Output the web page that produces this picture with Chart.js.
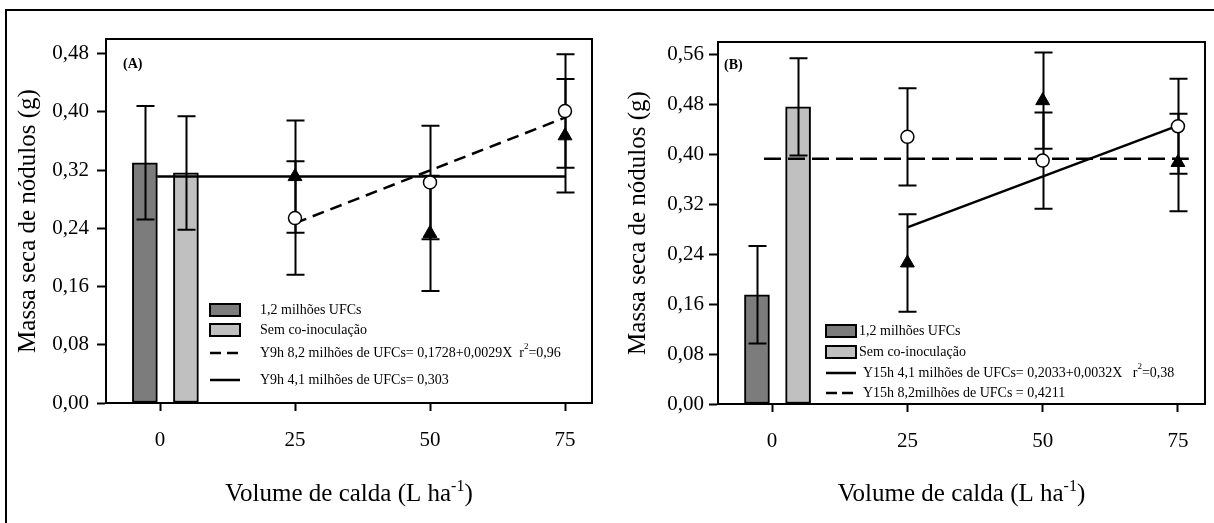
<!DOCTYPE html>
<html>
<head>
<meta charset="utf-8">
<script src="https://cdn.jsdelivr.net/npm/chart.js@4.4.1/dist/chart.umd.min.js"></script>
<style>
    html, body { margin: 0; padding: 0; background: #fff; }
    #wrap { position: relative; width: 1214px; height: 523px; overflow: hidden; }
    #frame { position: absolute; left: 5px; top: 9px; width: 1220px; height: 530px; border-top: 2px solid #000; border-left: 2px solid #000; }
    .panel { position: absolute; top: 0; width: 607px; height: 523px; }
</style>
</head>
<body>
<div id="wrap">
    <div id="frame"></div>
    <div class="panel" style="left:0"><canvas id="chartA" width="607" height="523"></canvas></div>
    <div class="panel" style="left:607px"><canvas id="chartB" width="607" height="523"></canvas></div>
</div>
<script>
// Shared axis values
var xTicks = [0, 25, 50, 75];
var doses = [25, 50, 75];
var barX = [-2.8, 4.8];   // 1,2 milhões UFCs ; Sem co-inoculação

// Panel (A)
var yTicksA = [0, 0.08, 0.16, 0.24, 0.32, 0.40, 0.48];
var barsA = [0.330, 0.316];
var barErrA = [0.078, 0.078];
var circlesA = [0.254, 0.303, 0.401];        // 8,2 milhões de UFCs
var circlesErrA = [0.078, 0.078, 0.078];
var trianglesA = [0.311, 0.233, 0.367];      // 4,1 milhões de UFCs
var trianglesErrA = [0.077, 0.079, 0.078];
var dashedXA = [25, 75];
var dashedYA = [0.247, 0.392];
var solidXA = [-0.5, 75];
var solidYA = [0.311, 0.311];

// Panel (B)
var yTicksB = [0, 0.08, 0.16, 0.24, 0.32, 0.40, 0.48, 0.56];
var barsB = [0.175, 0.476];
var barErrB = [0.078, 0.078];
var circlesB = [0.428, 0.390, 0.445];        // 8,2 milhões de UFCs
var circlesErrB = [0.078, 0.077, 0.076];
var trianglesB = [0.226, 0.486, 0.387];      // 4,1 milhões de UFCs
var trianglesErrB = [0.078, 0.077, 0.078];
var solidXB = [25, 75];
var solidYB = [0.283, 0.446];
var dashedXB = [-1.5, 77];
var dashedYB = [0.393, 0.393];

var serif = '"Liberation Serif", "Times New Roman", serif';
var darkGray = '#7c7c7c';
var lightGray = '#c0c0c0';

function fmt(v) { return v.toFixed(2).replace('.', ','); }

function pts(xs, ys) {
    return xs.map(function (x, i) { return { x: x, y: ys[i] }; });
}

// Writes text parts, some as superscript, starting at x; returns end x
function drawRich(ctx, x, y, parts, size, measureOnly) {
    parts.forEach(function (p) {
        var s = p.sup ? Math.round(size * 0.62) : size;
        ctx.font = s + 'px ' + serif;
        if (!measureOnly) ctx.fillText(p.t, x, p.sup ? y - size * 0.42 : y);
        x += ctx.measureText(p.t).width;
    });
    return x;
}

// Per-panel extras: legend, label, x title
var panels = {
    chartA: {
        label: '(A)', labelX: 123, labelY: 64,
        legend: [
            { kind: 'box', color: darkGray, y: 310, parts: [{ t: '1,2 milhões UFCs' }] },
            { kind: 'box', color: lightGray, y: 330, parts: [{ t: 'Sem co-inoculação' }] },
            { kind: 'line', dash: [11, 6], y: 353, parts: [{ t: 'Y9h 8,2 milhões de UFCs= 0,1728+0,0029X  r' }, { t: '2', sup: true }, { t: '=0,96' }] },
            { kind: 'line', dash: [], y: 380, parts: [{ t: 'Y9h 4,1 milhões de UFCs= 0,303' }] }
        ],
        symX: 210, symW: 30, textX: 260, lineTextX: 260
    },
    chartB: {
        label: '(B)', labelX: 117, labelY: 65,
        legend: [
            { kind: 'box', color: darkGray, y: 331, parts: [{ t: '1,2 milhões UFCs' }] },
            { kind: 'box', color: lightGray, y: 352, parts: [{ t: 'Sem co-inoculação' }] },
            { kind: 'line', dash: [], y: 373, parts: [{ t: 'Y15h 4,1 milhões de UFCs= 0,2033+0,0032X   r' }, { t: '2', sup: true }, { t: '=0,38' }] },
            { kind: 'line', dash: [11, 5], y: 393, parts: [{ t: 'Y15h 8,2milhões de UFCs = 0,4211' }] }
        ],
        symX: 219, symW: 30, textX: 252, lineTextX: 256
    }
};

var panelPlugin = {
    id: 'panel',
    afterDatasetDraw: function (chart, args) {
        // error bars go on top of the bars but under the lines and markers
        if (args.index !== chart.data.datasets.length - 1) return;
        var ctx = chart.ctx, xs = chart.scales.x, ys = chart.scales.y;
        ctx.save();
        ctx.strokeStyle = '#000';
        ctx.lineWidth = 2;
        chart.data.datasets.forEach(function (ds) {
            if (!ds.errors) return;
            ds.data.forEach(function (pt, i) {
                var px = Math.round(xs.getPixelForValue(pt.x)) + 0.5;
                var top = ys.getPixelForValue(pt.y + ds.errors[i]);
                var bot = ys.getPixelForValue(pt.y - ds.errors[i]);
                ctx.beginPath();
                ctx.moveTo(px, top); ctx.lineTo(px, bot);
                ctx.moveTo(px - 9, top); ctx.lineTo(px + 9, top);
                ctx.moveTo(px - 9, bot); ctx.lineTo(px + 9, bot);
                ctx.stroke();
            });
        });
        ctx.restore();
    },
    afterDraw: function (chart) {
        var p = panels[chart.canvas.id];
        var ctx = chart.ctx, a = chart.chartArea;
        ctx.save();
        // plot box
        ctx.strokeStyle = '#000';
        ctx.lineWidth = 2;
        ctx.strokeRect(a.left, a.top, a.right - a.left, a.bottom - a.top);

        ctx.fillStyle = '#000';
        ctx.textBaseline = 'middle';
        ctx.font = 'bold 14px ' + serif;
        ctx.fillText(p.label, p.labelX, p.labelY);

        // legend
        p.legend.forEach(function (e) {
            if (e.kind === 'box') {
                ctx.fillStyle = e.color;
                ctx.fillRect(p.symX, e.y - 6, p.symW, 12);
                ctx.lineWidth = 2;
                ctx.strokeRect(p.symX, e.y - 6, p.symW, 12);
                ctx.fillStyle = '#000';
                drawRich(ctx, p.textX, e.y, e.parts, 14);
            } else {
                ctx.lineWidth = 2.5;
                ctx.setLineDash(e.dash);
                ctx.beginPath();
                ctx.moveTo(p.symX, e.y); ctx.lineTo(p.symX + p.symW, e.y);
                ctx.stroke();
                ctx.setLineDash([]);
                drawRich(ctx, p.lineTextX, e.y, e.parts, 14);
            }
        });

        // x axis title with superscript
        var title = [{ t: 'Volume de calda (L ha' }, { t: '-1', sup: true }, { t: ')' }];
        var w = drawRich(ctx, 0, 0, title, 25, true);
        ctx.textBaseline = 'alphabetic';
        drawRich(ctx, (a.left + a.right) / 2 - w / 2, 501, title, 25);
        ctx.restore();
    }
};

function makeChart(id, cfg) {
    var datasets = [
        {
            type: 'line', data: pts(doses, cfg.circles), errors: cfg.circlesErr, showLine: false,
            pointStyle: 'circle', pointRadius: 6.5, pointBackgroundColor: '#fff',
            pointBorderColor: '#000', pointBorderWidth: 1.5
        },
        {
            type: 'line', data: pts(doses, cfg.triangles), errors: cfg.trianglesErr, showLine: false,
            pointStyle: 'triangle', pointRadius: 8, pointBackgroundColor: '#000',
            pointBorderColor: '#000', pointBorderWidth: 1
        },
        {
            type: 'line', data: pts(cfg.dashedX, cfg.dashedY), pointRadius: 0,
            borderColor: '#000', borderWidth: 2.5, borderDash: cfg.dash
        },
        {
            type: 'line', data: pts(cfg.solidX, cfg.solidY), pointRadius: 0,
            borderColor: '#000', borderWidth: 2.5
        },
        {
            type: 'bar', data: pts(barX, cfg.bars), errors: cfg.barErr,
            backgroundColor: [darkGray, lightGray], borderColor: '#000', borderWidth: 2,
            borderSkipped: false, barThickness: 25, grouped: false
        }
    ];

    return new Chart(document.getElementById(id), {
        type: 'bar',
        data: { datasets: datasets },
        options: {
            responsive: false,
            animation: false,
            events: [],
            layout: { padding: cfg.padding },
            plugins: { legend: { display: false }, tooltip: { enabled: false } },
            scales: {
                x: {
                    type: 'linear', min: -10, max: 80, offset: false,
                    afterBuildTicks: function (s) { s.ticks = xTicks.map(function (v) { return { value: v }; }); },
                    afterFit: function (s) { s.height = cfg.xHeight; },
                    grid: { drawOnChartArea: false, offset: false, tickLength: 8, tickWidth: 2, tickColor: '#000' },
                    border: { display: true, color: '#000', width: 2 },
                    ticks: { color: '#000', font: { family: serif, size: 21 }, padding: 17, maxRotation: 0 }
                },
                y: {
                    type: 'linear', min: 0, max: cfg.yMax,
                    afterBuildTicks: function (s) { s.ticks = cfg.yTicks.map(function (v) { return { value: v }; }); },
                    afterFit: function (s) { s.width = cfg.yWidth; },
                    grid: { drawOnChartArea: false, tickLength: 9, tickWidth: 2, tickColor: '#000' },
                    border: { display: true, color: '#000', width: 2 },
                    ticks: {
                        color: '#000', font: { family: serif, size: 21 }, padding: cfg.tickPad,
                        callback: function (v) { return fmt(v); }
                    },
                    title: {
                        display: true, text: 'Massa seca de nódulos (g)', color: '#000',
                        font: { family: serif, size: 25 }, padding: { top: cfg.titlePad, bottom: 0 }
                    }
                }
            }
        },
        plugins: [panelPlugin]
    });
}

makeChart('chartA', {
    bars: barsA, barErr: barErrA,
    circles: circlesA, circlesErr: circlesErrA,
    triangles: trianglesA, trianglesErr: trianglesErrA,
    dashedX: dashedXA, dashedY: dashedYA, dash: [12, 7],
    solidX: solidXA, solidY: solidYA,
    yTicks: yTicksA, yMax: 0.50,
    padding: { left: 0, right: 15, top: 39, bottom: 0 },
    xHeight: 120, yWidth: 106, tickPad: 8, titlePad: 13
});

makeChart('chartB', {
    bars: barsB, barErr: barErrB,
    circles: circlesB, circlesErr: circlesErrB,
    triangles: trianglesB, trianglesErr: trianglesErrB,
    dashedX: dashedXB, dashedY: dashedYB, dash: [17, 7],
    solidX: solidXB, solidY: solidYB,
    yTicks: yTicksB, yMax: 0.58,
    padding: { left: 0, right: 7, top: 42, bottom: 0 },
    xHeight: 119, yWidth: 111, tickPad: 5, titlePad: 16
});
</script>
</body>
</html>
